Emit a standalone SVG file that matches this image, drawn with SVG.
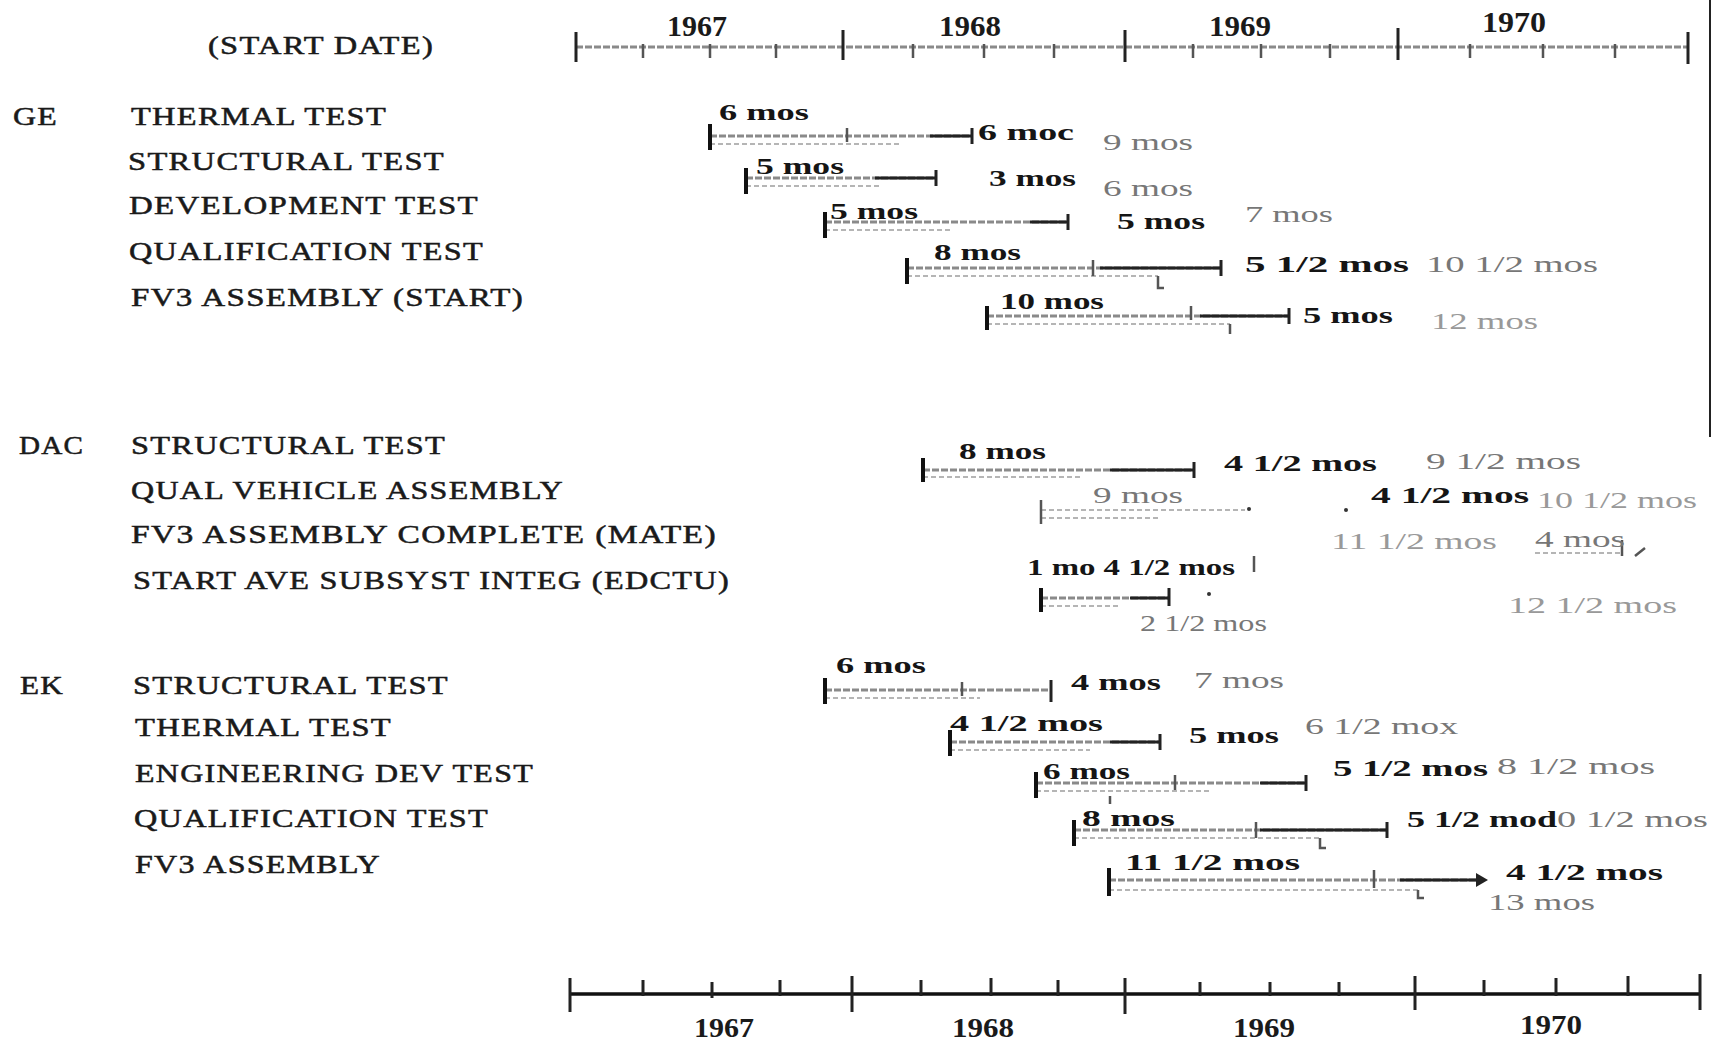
<svg xmlns="http://www.w3.org/2000/svg" width="1713" height="1044" viewBox="0 0 1713 1044">
<style>
text{font-family:"Liberation Serif","DejaVu Serif",serif}
.lbl{font-size:25px;fill:#1a1a1a;stroke:#1a1a1a;stroke-width:0.5;letter-spacing:1px}
.yr{font-size:29px;font-weight:bold;fill:#1a1a1a}
.yb{font-size:27px;font-weight:bold;fill:#1a1a1a}
.b{font-size:24px;font-weight:bold;fill:#151515}
.f{font-size:23px;fill:#777}
.ff{font-size:23px;fill:#999}
.bar{stroke:#8a8a8a;stroke-width:3;stroke-dasharray:7 2;fill:none}
.bar2{stroke:#b5b5b5;stroke-width:2;stroke-dasharray:5 3;fill:none}
.dk{stroke:#222;stroke-width:3;fill:none}
.brk{stroke:#111;stroke-width:4;fill:none}
.tk{stroke:#222;stroke-width:3;fill:none}
.tkl{stroke:#555;stroke-width:2.5;fill:none}
</style>
<rect width="1713" height="1044" fill="#fff"/>
<line x1="1710" y1="0" x2="1710" y2="437" stroke="#222" stroke-width="2"/>

<g id="top-axis">
<text class="lbl" x="208" y="54" textLength="226" lengthAdjust="spacingAndGlyphs">(START DATE)</text>
<line class="bar" x1="576" y1="47" x2="1688" y2="47"/>
<path class="tk" d="M576 32V62M843 30V60M1125 30V62M1398 28V60M1688 32V64"/>
<path class="tkl" d="M643 44V58M710 44V58M776 44V58M913 44V58M984 44V58M1054 44V58M1193 44V58M1261 44V58M1330 44V58M1470 44V58M1543 44V58M1615 44V58"/>
<text class="yr" x="667" y="36" textLength="60" lengthAdjust="spacingAndGlyphs">1967</text>
<text class="yr" x="939" y="36" textLength="62" lengthAdjust="spacingAndGlyphs">1968</text>
<text class="yr" x="1209" y="36" textLength="62" lengthAdjust="spacingAndGlyphs">1969</text>
<text class="yr" x="1482" y="32" textLength="64" lengthAdjust="spacingAndGlyphs">1970</text>
</g>

<g id="bottom-axis">
<line x1="570" y1="994" x2="1700" y2="994" stroke="#111" stroke-width="3.5"/>
<path class="tk" d="M570 978V1012M852 976V1012M1125 978V1014M1415 976V1010M1700 974V1010"/>
<path class="tk" d="M643 980V996M712 982V998M780 980V996M921 980V996M991 978V996M1058 980V996M1200 982V996M1270 982V996M1339 982V996M1484 980V996M1556 978V996M1628 976V996"/>
<text class="yb" x="694" y="1037" textLength="60" lengthAdjust="spacingAndGlyphs">1967</text>
<text class="yb" x="952" y="1037" textLength="62" lengthAdjust="spacingAndGlyphs">1968</text>
<text class="yb" x="1233" y="1037" textLength="62" lengthAdjust="spacingAndGlyphs">1969</text>
<text class="yb" x="1520" y="1034" textLength="62" lengthAdjust="spacingAndGlyphs">1970</text>
</g>

<g id="ge-labels">
<text class="lbl" x="13" y="125" textLength="45" lengthAdjust="spacingAndGlyphs">GE</text>
<text class="lbl" x="131" y="125" textLength="256" lengthAdjust="spacingAndGlyphs">THERMAL TEST</text>
<text class="lbl" x="128" y="170" textLength="317" lengthAdjust="spacingAndGlyphs">STRUCTURAL TEST</text>
<text class="lbl" x="129" y="214" textLength="350" lengthAdjust="spacingAndGlyphs">DEVELOPMENT TEST</text>
<text class="lbl" x="129" y="260" textLength="355" lengthAdjust="spacingAndGlyphs">QUALIFICATION TEST</text>
<text class="lbl" x="131" y="306" textLength="393" lengthAdjust="spacingAndGlyphs">FV3 ASSEMBLY (START)</text>
</g>
<g id="dac-labels">
<text class="lbl" x="19" y="454" textLength="65" lengthAdjust="spacingAndGlyphs">DAC</text>
<text class="lbl" x="131" y="454" textLength="315" lengthAdjust="spacingAndGlyphs">STRUCTURAL TEST</text>
<text class="lbl" x="131" y="499" textLength="433" lengthAdjust="spacingAndGlyphs">QUAL VEHICLE ASSEMBLY</text>
<text class="lbl" x="131" y="543" textLength="586" lengthAdjust="spacingAndGlyphs">FV3  ASSEMBLY COMPLETE (MATE)</text>
<text class="lbl" x="133" y="589" textLength="597" lengthAdjust="spacingAndGlyphs">START AVE SUBSYST INTEG (EDCTU)</text>
</g>
<g id="ek-labels">
<text class="lbl" x="20" y="694" textLength="44" lengthAdjust="spacingAndGlyphs">EK</text>
<text class="lbl" x="133" y="694" textLength="316" lengthAdjust="spacingAndGlyphs">STRUCTURAL TEST</text>
<text class="lbl" x="135" y="736" textLength="257" lengthAdjust="spacingAndGlyphs">THERMAL TEST</text>
<text class="lbl" x="135" y="782" textLength="399" lengthAdjust="spacingAndGlyphs">ENGINEERING DEV TEST</text>
<text class="lbl" x="134" y="827" textLength="355" lengthAdjust="spacingAndGlyphs">QUALIFICATION TEST</text>
<text class="lbl" x="135" y="873" textLength="246" lengthAdjust="spacingAndGlyphs">FV3 ASSEMBLY</text>
</g>

<g id="connectors">
<!-- GE thermal -->
<line class="bar" x1="710" y1="136" x2="972" y2="136"/>
<line class="bar2" x1="710" y1="144" x2="900" y2="144"/>
<path class="brk" d="M710 124V150"/>
<path class="tkl" d="M847 128V142"/>
<path class="dk" d="M930 136H972M972 128V144"/>
<!-- GE structural -->
<line class="bar" x1="746" y1="178" x2="936" y2="178"/>
<line class="bar2" x1="746" y1="186" x2="880" y2="186"/>
<path class="brk" d="M746 168V194"/>
<path class="dk" d="M875 178H936M936 170V186"/>
<!-- GE development -->
<line class="bar" x1="825" y1="222" x2="1068" y2="222"/>
<line class="bar2" x1="825" y1="230" x2="950" y2="230"/>
<path class="brk" d="M825 212V238"/>
<path class="dk" d="M1030 222H1068M1068 214V230"/>
<!-- GE qualification -->
<line class="bar" x1="907" y1="268" x2="1221" y2="268"/>
<line class="bar2" x1="907" y1="276" x2="1158" y2="276"/>
<path class="brk" d="M907 258V284"/>
<path class="tkl" d="M1093 260V276M1158 276V288H1164"/>
<path class="dk" d="M1100 268H1221M1221 260V276"/>
<!-- GE FV3 -->
<line class="bar" x1="987" y1="316" x2="1289" y2="316"/>
<line class="bar2" x1="987" y1="324" x2="1230" y2="324"/>
<path class="brk" d="M987 306V330"/>
<path class="tkl" d="M1191 306V320M1230 324V334"/>
<path class="dk" d="M1200 316H1289M1289 308V324"/>
<!-- DAC structural -->
<line class="bar" x1="923" y1="470" x2="1194" y2="470"/>
<line class="bar2" x1="923" y1="477" x2="1080" y2="477"/>
<path class="brk" d="M923 458V482"/>
<path class="dk" d="M1110 470H1194M1194 462V478"/>
<!-- DAC qual vehicle -->
<line class="bar2" x1="1041" y1="510" x2="1245" y2="510"/>
<line class="bar2" x1="1041" y1="518" x2="1160" y2="518"/>
<path class="tkl" d="M1041 500V524"/>
<circle cx="1249" cy="509" r="2" fill="#333"/>
<circle cx="1346" cy="510" r="2" fill="#333"/>
<!-- DAC FV3 complete -->
<path class="tkl" d="M1254 556V572"/>
<path class="bar2" d="M1535 553H1622"/>
<path class="tkl" d="M1622 540V556M1635 556L1645 548"/>
<!-- DAC start AVE -->
<line class="bar" x1="1041" y1="598" x2="1169" y2="598"/>
<line class="bar2" x1="1041" y1="606" x2="1120" y2="606"/>
<path class="brk" d="M1041 588V612"/>
<path class="dk" d="M1130 598H1169M1169 588V606"/>
<circle cx="1209" cy="594" r="2" fill="#333"/>
<!-- EK structural -->
<line class="bar" x1="825" y1="690" x2="1051" y2="690"/>
<line class="bar2" x1="825" y1="698" x2="980" y2="698"/>
<path class="brk" d="M825 678V704"/>
<path class="tkl" d="M962 682V696"/>
<path class="dk" d="M1051 680V702"/>
<!-- EK thermal -->
<line class="bar" x1="950" y1="742" x2="1160" y2="742"/>
<line class="bar2" x1="950" y1="750" x2="1090" y2="750"/>
<path class="brk" d="M950 730V756"/>
<path class="dk" d="M1110 742H1160M1160 734V750"/>
<!-- EK eng dev -->
<line class="bar" x1="1036" y1="783" x2="1306" y2="783"/>
<line class="bar2" x1="1036" y1="791" x2="1210" y2="791"/>
<path class="brk" d="M1036 772V798"/>
<path class="tkl" d="M1175 775V790M1110 796V804"/>
<path class="dk" d="M1260 783H1306M1306 775V791"/>
<!-- EK qualification -->
<line class="bar" x1="1074" y1="830" x2="1387" y2="830"/>
<line class="bar2" x1="1074" y1="838" x2="1320" y2="838"/>
<path class="brk" d="M1074 820V846"/>
<path class="tkl" d="M1256 822V838M1320 838V848H1326"/>
<path class="dk" d="M1260 830H1387M1387 822V838"/>
<!-- EK FV3 -->
<line class="bar" x1="1109" y1="880" x2="1480" y2="880"/>
<line class="bar2" x1="1109" y1="890" x2="1418" y2="890"/>
<path class="brk" d="M1109 868V896"/>
<path class="tkl" d="M1374 870V888M1418 890V898H1424"/>
<path class="dk" d="M1400 880H1480"/>
<path d="M1476 873L1488 880L1476 887Z" fill="#222"/>
</g>

<g id="ge-durations">
<text class="b" x="719" y="120" textLength="90" lengthAdjust="spacingAndGlyphs">6 mos</text>
<text class="b" x="978" y="140" textLength="96" lengthAdjust="spacingAndGlyphs">6 moc</text>
<text class="f" x="1103" y="150" textLength="90" lengthAdjust="spacingAndGlyphs">9 mos</text>
<text class="b" x="756" y="174" textLength="88" lengthAdjust="spacingAndGlyphs">5 mos</text>
<text class="b" x="989" y="186" textLength="87" lengthAdjust="spacingAndGlyphs">3 mos</text>
<text class="f" x="1103" y="196" textLength="90" lengthAdjust="spacingAndGlyphs">6 mos</text>
<text class="b" x="830" y="219" textLength="88" lengthAdjust="spacingAndGlyphs">5 mos</text>
<text class="b" x="1117" y="229" textLength="88" lengthAdjust="spacingAndGlyphs">5 mos</text>
<text class="f" x="1245" y="222" textLength="88" lengthAdjust="spacingAndGlyphs">7 mos</text>
<text class="b" x="934" y="260" textLength="87" lengthAdjust="spacingAndGlyphs">8 mos</text>
<text class="b" x="1245" y="272" textLength="164" lengthAdjust="spacingAndGlyphs">5 1/2 mos</text>
<text class="f" x="1426" y="272" textLength="172" lengthAdjust="spacingAndGlyphs">10 1/2 mos</text>
<text class="b" x="1000" y="309" textLength="104" lengthAdjust="spacingAndGlyphs">10 mos</text>
<text class="b" x="1303" y="323" textLength="90" lengthAdjust="spacingAndGlyphs">5 mos</text>
<text class="ff" x="1431" y="329" textLength="107" lengthAdjust="spacingAndGlyphs">12 mos</text>
</g>

<g id="dac-durations">
<text class="b" x="959" y="459" textLength="87" lengthAdjust="spacingAndGlyphs">8 mos</text>
<text class="b" x="1224" y="471" textLength="153" lengthAdjust="spacingAndGlyphs">4 1/2 mos</text>
<text class="f" x="1426" y="469" textLength="155" lengthAdjust="spacingAndGlyphs">9 1/2 mos</text>
<text class="f" x="1093" y="503" textLength="90" lengthAdjust="spacingAndGlyphs">9 mos</text>
<text class="b" x="1371" y="503" textLength="158" lengthAdjust="spacingAndGlyphs">4 1/2 mos</text>
<text class="ff" x="1537" y="508" textLength="160" lengthAdjust="spacingAndGlyphs">10 1/2 mos</text>
<text class="ff" x="1331" y="549" textLength="166" lengthAdjust="spacingAndGlyphs">11 1/2 mos</text>
<text class="f" x="1535" y="547" textLength="90" lengthAdjust="spacingAndGlyphs">4 mos</text>
<text class="b" x="1027" y="575" textLength="208" lengthAdjust="spacingAndGlyphs">1 mo 4 1/2 mos</text>
<text class="f" x="1140" y="631" textLength="127" lengthAdjust="spacingAndGlyphs">2 1/2 mos</text>
<text class="ff" x="1508" y="613" textLength="169" lengthAdjust="spacingAndGlyphs">12 1/2 mos</text>
</g>

<g id="ek-durations">
<text class="b" x="836" y="673" textLength="90" lengthAdjust="spacingAndGlyphs">6 mos</text>
<text class="b" x="1071" y="690" textLength="90" lengthAdjust="spacingAndGlyphs">4 mos</text>
<text class="f" x="1194" y="688" textLength="90" lengthAdjust="spacingAndGlyphs">7 mos</text>
<text class="b" x="950" y="731" textLength="153" lengthAdjust="spacingAndGlyphs">4 1/2 mos</text>
<text class="b" x="1189" y="743" textLength="90" lengthAdjust="spacingAndGlyphs">5 mos</text>
<text class="f" x="1305" y="734" textLength="153" lengthAdjust="spacingAndGlyphs">6 1/2 mox</text>
<text class="b" x="1043" y="779" textLength="87" lengthAdjust="spacingAndGlyphs">6 mos</text>
<text class="b" x="1333" y="776" textLength="155" lengthAdjust="spacingAndGlyphs">5 1/2 mos</text>
<text class="f" x="1497" y="774" textLength="158" lengthAdjust="spacingAndGlyphs">8 1/2 mos</text>
<text class="b" x="1082" y="826" textLength="93" lengthAdjust="spacingAndGlyphs">8 mos</text>
<text class="b" x="1407" y="827" textLength="150" lengthAdjust="spacingAndGlyphs">5 1/2 mod</text>
<text class="f" x="1557" y="827" textLength="151" lengthAdjust="spacingAndGlyphs">0 1/2 mos</text>
<text class="b" x="1125" y="870" textLength="175" lengthAdjust="spacingAndGlyphs">11 1/2 mos</text>
<text class="b" x="1506" y="880" textLength="157" lengthAdjust="spacingAndGlyphs">4 1/2 mos</text>
<text class="f" x="1488" y="910" textLength="107" lengthAdjust="spacingAndGlyphs">13 mos</text>
</g>
</svg>
